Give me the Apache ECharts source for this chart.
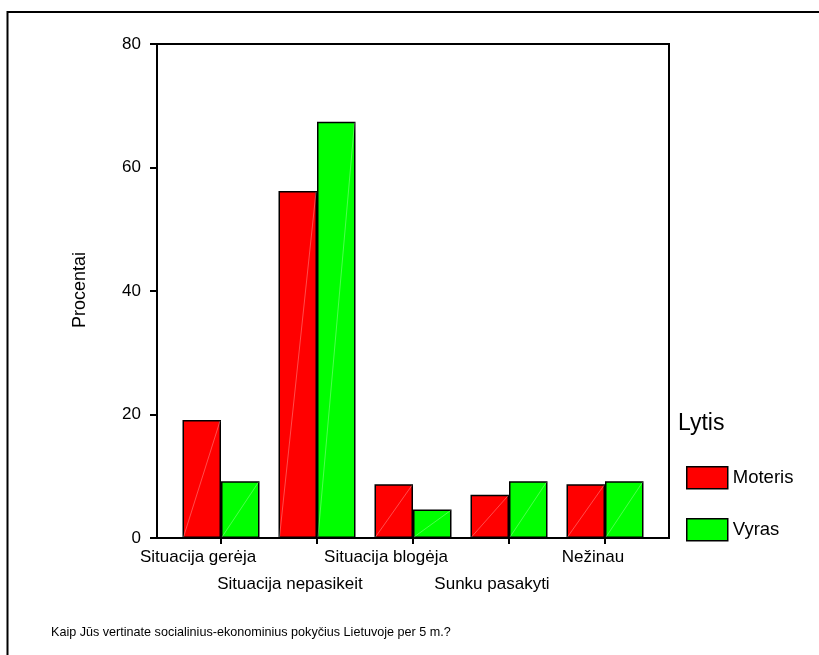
<!DOCTYPE html>
<html>
<head>
<meta charset="utf-8">
<script src="https://cdn.jsdelivr.net/npm/echarts@6/dist/echarts.min.js"></script>
<style>html,body{margin:0;padding:0;background:#fff}#c{width:819px;height:655px}</style>
</head>
<body>
<div id="c"></div>
<script>
const categories = ['Situacija gerėja', 'Situacija nepasikeit', 'Situacija blogėja', 'Sunku pasakyti', 'Nežinau'];
const moteris = [19.1, 56.2, 8.7, 7.0, 8.7];
const vyras = [9.2, 67.4, 4.6, 9.2, 9.2];
const yTicks = [0, 20, 40, 60, 80];
const seriesNames = ['Moteris', 'Vyras'];
const legendTitle = 'Lytis';
const yTitle = 'Procentai';
const footnote = 'Kaip Jūs vertinate socialinius-ekonominius pokyčius Lietuvoje per 5 m.?';

const FONT = '"Liberation Sans", Arial, sans-serif';
const BW = 38.5;
// horizontal shift (px) of each category label relative to its tick (layout only)
const labelShift = [-23, -27, -27, -17, -12];
const chart = echarts.init(document.getElementById('c'), null, {renderer: 'canvas'});

const rich = {};
labelShift.forEach((s, i) => {
  rich['l' + i] = {fontSize: 17, fontFamily: FONT, color: '#000', lineHeight: 27, padding: [0, -2 * s, 0, 0]};
});

function diag(values, side) {
  return {
    type: 'custom', xAxisIndex: 1, yAxisIndex: 1, silent: true, z: 5,
    data: values.map((v, i) => [i, v]),
    renderItem: function (params, api) {
      const top = api.coord([api.value(0), api.value(1)]);
      const base = api.coord([api.value(0), 0]);
      const x0 = side === 0 ? top[0] - BW : top[0];
      const x1 = x0 + BW;
      return {type: 'line', shape: {x1: x0 + 1, y1: base[1] - 1, x2: x1 - 1, y2: top[1] + 1},
        style: {stroke: 'rgba(255,255,255,0.5)', lineWidth: 0.6}};
    }
  };
}

chart.setOption({
  backgroundColor: '#fff',
  animation: false,
  textStyle: {fontFamily: FONT},
  grid: [
    {left: 157, top: 44, width: 512, height: 494, show: true, borderColor: '#000', borderWidth: 2, backgroundColor: 'transparent'},
    {left: 173, top: 44, width: 480, height: 494}
  ],
  xAxis: [
    {gridIndex: 0, type: 'value', show: false, min: 0, max: 1},
    {gridIndex: 1, type: 'category', data: categories,
      axisLine: {show: true, lineStyle: {color: '#000', width: 2}},
      axisTick: {show: true, alignWithLabel: true, length: 6, lineStyle: {color: '#000', width: 2}},
      axisLabel: {interval: 0, hideOverlap: false, margin: 6, color: '#000', fontSize: 17, fontFamily: FONT, lineHeight: 27,
        rich: rich,
        formatter: (v, i) => (i % 2 ? '\n' : '') + '{l' + i + '|' + v + '}'}}
  ],
  yAxis: [
    {gridIndex: 0, type: 'value', min: yTicks[0], max: yTicks[yTicks.length - 1], interval: 20,
      axisLine: {show: true, lineStyle: {color: '#000', width: 2}},
      axisTick: {show: true, length: 7, lineStyle: {color: '#000', width: 2}},
      splitLine: {show: false},
      axisLabel: {color: '#000', fontSize: 17, fontFamily: FONT, margin: 16}},
    {gridIndex: 1, type: 'value', min: yTicks[0], max: yTicks[yTicks.length - 1], show: false, splitLine: {show: false}}
  ],
  legend: {
    data: seriesNames, orient: 'vertical', left: 686, top: 466, padding: 0,
    itemWidth: 41, itemHeight: 22, itemGap: 28.5, icon: 'rect',
    itemStyle: {borderColor: '#000', borderWidth: 1.5},
    textStyle: {color: '#000', fontSize: 18.5, fontFamily: FONT}
  },
  series: [
    {name: seriesNames[0], type: 'bar', xAxisIndex: 1, yAxisIndex: 1, data: moteris, barWidth: BW, barGap: '0%',
      itemStyle: {color: '#ff0000', borderColor: '#000', borderWidth: 1.5}},
    {name: seriesNames[1], type: 'bar', xAxisIndex: 1, yAxisIndex: 1, data: vyras, barWidth: BW, barGap: '0%',
      itemStyle: {color: '#00ff00', borderColor: '#000', borderWidth: 1.5}},
    diag(moteris, 0),
    diag(vyras, 1)
  ],
  graphic: [
    {type: 'rect', shape: {x: 7.5, y: 12, width: 900, height: 800}, silent: true,
      style: {fill: 'none', stroke: '#000', lineWidth: 2}},
    {type: 'text', x: 80, y: 290, rotation: Math.PI / 2, silent: true,
      style: {text: yTitle, fill: '#000', font: '18px ' + FONT, textAlign: 'center', textVerticalAlign: 'middle'}},
    {type: 'text', x: 678, y: 424, silent: true,
      style: {text: legendTitle, fill: '#000', font: '23px ' + FONT, textAlign: 'left', textVerticalAlign: 'middle'}},
    {type: 'text', x: 51, y: 633, silent: true,
      style: {text: footnote, fill: '#000', font: '12.6px ' + FONT, textAlign: 'left', textVerticalAlign: 'middle'}}
  ]
});
</script>
</body>
</html>
